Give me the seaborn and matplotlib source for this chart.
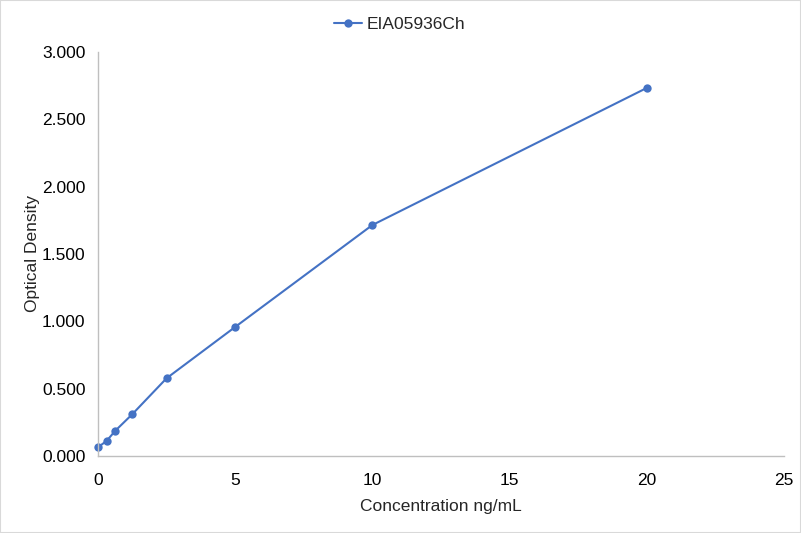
import matplotlib
matplotlib.use('Agg')
import matplotlib.pyplot as plt
import seaborn as sns
import pandas as pd

# Standard curve values
concentration = [0, 0.3125, 0.625, 1.25, 2.5, 5, 10, 20]
optical_density = [0.065, 0.111, 0.186, 0.310, 0.577, 0.958, 1.715, 2.733]
series_name = 'EIA05936Ch'

df = pd.DataFrame({'conc': concentration, 'od': optical_density})

sns.set_style('white')
plt.rcParams['font.family'] = ['Liberation Sans', 'DejaVu Sans']

fig = plt.figure(figsize=(8.01, 5.33), dpi=100)
ax = fig.add_axes([0.1223, 0.1445, 0.8565, 0.758])

line_color = '#4472C4'
sns.lineplot(data=df, x='conc', y='od', ax=ax, color=line_color, linewidth=1.5,
             marker='o', markersize=6, markeredgewidth=0, label=series_name,
             clip_on=False)

ax.set_xlim(0, 25)
ax.set_ylim(0, 3.0)
ax.set_xticks(range(0, 26, 5))
ax.set_yticks([0, 0.5, 1.0, 1.5, 2.0, 2.5, 3.0])
ax.set_yticklabels([f'{v:.3f}' for v in ax.get_yticks()])
ax.tick_params(axis='both', labelsize=12.5, colors='#000000', length=0)
ax.tick_params(axis='x', pad=12)
ax.tick_params(axis='y', pad=9)
ax.set_xlabel('Concentration ng/mL', fontsize=12.5, labelpad=8)
ax.set_ylabel('Optical Density', fontsize=12.5, labelpad=1)

for side in ['top', 'right']:
    ax.spines[side].set_visible(False)
for side in ['left', 'bottom']:
    ax.spines[side].set_color('#BFBFBF')
    ax.spines[side].set_linewidth(1)

leg = ax.legend(loc='lower center', bbox_to_anchor=(0.44, 1.011), frameon=False,
                fontsize=12.5, handlelength=1.6, handletextpad=0.3)

# thin gray border round the figure
fig.patches.append(plt.Rectangle((0, 0), 1, 1, transform=fig.transFigure,
                                 fill=False, edgecolor='#D9D9D9', linewidth=1.5))

fig.savefig('out.png', dpi=100)
